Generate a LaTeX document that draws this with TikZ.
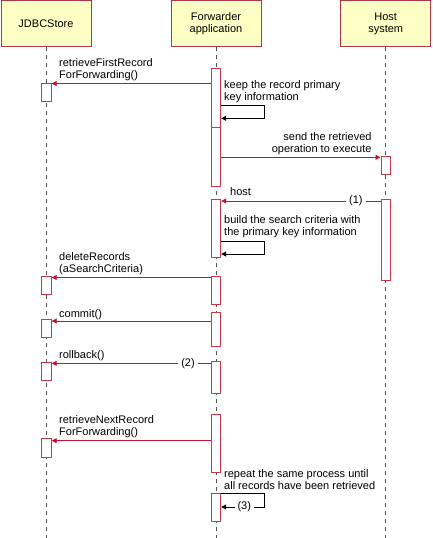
\documentclass[tikz,border=0pt]{standalone}
\usepackage{fontspec}
\setmainfont{Liberation Sans}
\usetikzlibrary{arrows.meta,calc}
\definecolor{hdrfill}{HTML}{FFFFC6}
\definecolor{hdrline}{HTML}{B03848}
\definecolor{actline}{HTML}{C83848}
\definecolor{msgred}{HTML}{C41230}
\definecolor{lifegray}{HTML}{505050}
\tikzset{
  hdr/.style={draw=hdrline, fill=hdrfill, line width=1pt, minimum width=90pt, minimum height=46.5pt, inner sep=0pt, align=center, font=\fontsize{11}{12}\selectfont},
  lifeline/.style={draw=lifegray, line width=0.9pt, dash pattern=on 4pt off 4pt},
  act/.style={draw=actline, fill=white, line width=1pt, minimum width=9.4pt, inner sep=0pt, anchor=north},
  msg/.style={draw=msgred, line width=0.9pt, -{Triangle[length=5pt,width=5pt]}},
  selfmsg/.style={draw=black, line width=0.9pt, -{Triangle[length=5pt,width=5pt]}},
  lbl/.style={inner sep=0pt, align=left, font=\fontsize{11}{12.3}\selectfont},
  gaplbl/.style={fill=white, inner xsep=3pt, inner ysep=0pt, font=\fontsize{11}{12}\selectfont}
}
\begin{document}
\begin{tikzpicture}[x=1pt,y=-1pt]
\useasboundingbox (0,0) rectangle (432,538);
% headers
\node[hdr] (jdbc) at (46,23.7) {JDBCStore};
\node[hdr] (fwd) at (216,23.7) {Forwarder\\application};
\node[hdr] (host) at (385.7,23.7) {Host\\system};
% lifelines
\coordinate (jend) at (46.5,538);
\coordinate (fend) at (216,538);
\coordinate (hend) at (385.7,538);
\draw[lifeline] (jdbc.south -| jend) -- (jend);
\draw[lifeline] (fwd.south -| fend) -- (fend);
\draw[lifeline] (host.south -| hend) -- (hend);
% activation boxes
\node[act, minimum height=18pt] (j1) at (46.5,82.7) {};
\node[act, minimum height=59pt] (f1) at (216,68.3) {};
\node[act, minimum height=58.4pt] (f2) at (216,127.3) {};
\node[act, minimum height=18pt] (h1) at (385.7,156) {};
\node[act, minimum height=58.3pt] (f3) at (216,199) {};
\node[act, minimum height=81pt] (h2) at (385.7,199) {};
\node[act, minimum height=18.3pt] (j2) at (46.5,275.7) {};
\node[act, minimum height=28.6pt] (f4) at (216,275.7) {};
\node[act, minimum height=18pt] (j3) at (46.5,318.7) {};
\node[act, minimum height=33.7pt] (f5) at (216,312.3) {};
\node[act, minimum height=18.3pt] (j4) at (46.5,361.7) {};
\node[act, minimum height=32pt] (f6) at (216,361.3) {};
\node[act, minimum height=18.4pt] (j5) at (46.5,438.3) {};
\node[act, minimum height=58.3pt] (f7) at (216,414) {};
\node[act, minimum height=28pt] (f8) at (216,492.7) {};
% message 1
\coordinate (y1) at (0,83.5);
\draw[msg] (f1.west |- y1) -- (j1.east |- y1);
\node[lbl, anchor=west] (t1) at (59,69.5) {retrieveFirstRecord\\ForForwarding()};
% self 1
\coordinate (s1a) at (264.7,105.7);
\coordinate (s1b) at (264.7,118.3);
\draw[selfmsg] (f1.east |- s1a) -- (s1a) -- (s1b) -- (f1.east |- s1b);
\node[lbl, anchor=west] (t2) at (224,91.5) {keep the record primary\\key information};
% message 2
\coordinate (y2) at (0,157.3);
\draw[msg] (f2.east |- y2) -- (h1.west |- y2);
\node[lbl, anchor=east, align=right] (t3) at (371.7,143.7) {send the retrieved\\operation to execute};
% message 3 (host reply)
\coordinate (y3) at (0,201);
\draw[msg] (h2.west |- y3) -- node[gaplbl, pos=0.155] (n1) {(1)} (f3.east |- y3);
\node[lbl, anchor=west] (t4) at (230,192) {host};
% self 2
\coordinate (s2a) at (264.7,241);
\coordinate (s2b) at (264.7,254);
\draw[selfmsg] (f3.east |- s2a) -- (s2a) -- (s2b) -- (f3.east |- s2b);
\node[lbl, anchor=west] (t5) at (224,226.7) {build the search criteria with\\the primary key information};
% message 4
\coordinate (y4) at (0,277.5);
\draw[msg] (f4.west |- y4) -- (j2.east |- y4);
\node[lbl, anchor=west] (t6) at (59,263.8) {deleteRecords\\(aSearchCriteria)};
% message 5
\coordinate (y5) at (0,321);
\draw[msg] (f5.west |- y5) -- (j3.east |- y5);
\node[lbl, anchor=west] (t7) at (59,314.3) {commit()};
% message 6
\coordinate (y6) at (0,363.3);
\draw[msg] (f6.west |- y6) -- node[gaplbl, pos=0.143] (n2) {(2)} (j4.east |- y6);
\node[lbl, anchor=west] (t8) at (59,355.7) {rollback()};
% message 7
\coordinate (y7) at (0,440.7);
\draw[msg] (f7.west |- y7) -- (j5.east |- y7);
\node[lbl, anchor=west] (t9) at (59,426.7) {retrieveNextRecord\\ForForwarding()};
% self 3
\coordinate (s3a) at (264.7,493.7);
\coordinate (s3b) at (264.7,507);
\draw[selfmsg] (f8.east |- s3a) -- (s3a) -- (s3b) -- node[gaplbl, pos=0.47] (n3) {(3)} (f8.east |- s3b);
\node[lbl, anchor=west] (t10) at (224,479.8) {repeat the same process until\\all records have been retrieved};
\end{tikzpicture}
\end{document}
